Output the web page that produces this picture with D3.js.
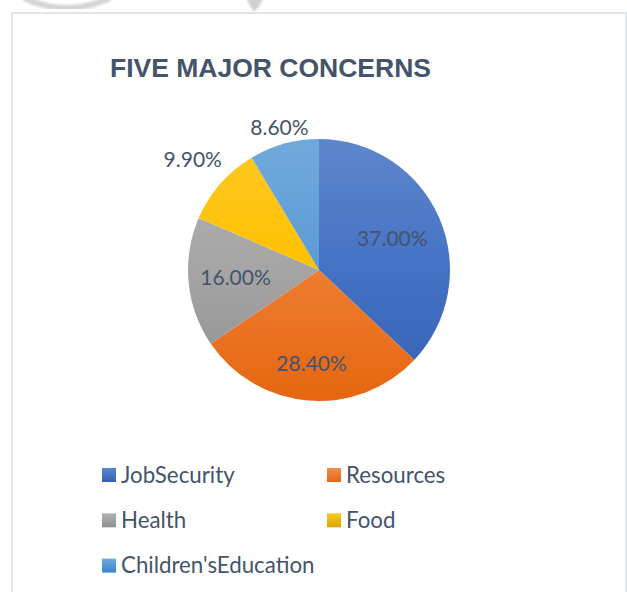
<!DOCTYPE html>
<html>
<head>
<meta charset="utf-8">
<script src="https://cdn.jsdelivr.net/npm/d3@7"></script>
<style>
  html, body { margin: 0; padding: 0; background: #ffffff; }
  svg { display: block; }
</style>
</head>
<body>
<div id="chart"></div>
<script>
// ---- data ----
const title = "FIVE MAJOR CONCERNS";
const categories = ["JobSecurity", "Resources", "Health", "Food", "Children'sEducation"];
const values = [37.00, 28.40, 16.00, 9.90, 8.60];
const labels = ["37.00%", "28.40%", "16.00%", "9.90%", "8.60%"];

// ---- styles / layout ----
const W = 627, H = 592;
const baseColors = ["#4472C4", "#ED7D31", "#A5A5A5", "#FFC000", "#5B9BD5"];
const textColor = "#44546A";
const cx = 319, cy = 270, R = 131;
const labelRadiusFactor = [0.61, 0.72, 0.64, 1.28, 1.13];
const font = "Lato, 'Open Sans', sans-serif";

const svg = d3.select("#chart").append("svg")
  .attr("width", W).attr("height", H);

const defs = svg.append("defs");

function topColor(c) { return d3.interpolateRgb(c, "#ffffff")(0.14); }
function bottomColor(c) {
  const h = d3.hsl(c);
  h.s = Math.min(1, h.s * 1.04);
  h.l = h.l * 0.86;
  return h.formatHex();
}

// gradients: slices (in pie-group space) and legend swatches
baseColors.forEach((c, i) => {
  const sg = defs.append("linearGradient")
    .attr("id", "gradL" + i)
    .attr("gradientUnits", "userSpaceOnUse")
    .attr("x1", 0).attr("x2", 0)
    .attr("y1", -R).attr("y2", R);
  sg.append("stop").attr("offset", "0%").attr("stop-color", topColor(c));
  sg.append("stop").attr("offset", "50%").attr("stop-color", c);
  sg.append("stop").attr("offset", "100%").attr("stop-color", bottomColor(c));

  const lg = defs.append("linearGradient")
    .attr("id", "lgrad" + i)
    .attr("x1", 0).attr("x2", 0).attr("y1", 0).attr("y2", 1);
  lg.append("stop").attr("offset", "0%").attr("stop-color", topColor(c));
  lg.append("stop").attr("offset", "100%").attr("stop-color", bottomColor(c));
});

// decorative remnants at top (from the page the chart was cut from)
const blur = defs.append("filter").attr("id", "soft");
blur.append("feGaussianBlur").attr("stdDeviation", 1.2);
svg.append("path")
  .attr("d", "M24,-2 Q66,18 110,-2")
  .attr("fill", "none").attr("stroke", "#d4d4d4").attr("stroke-width", 6)
  .attr("filter", "url(#soft)");
svg.append("path")
  .attr("d", "M246,-2 L264,-2 L258,8 L254,12 L250,6 Z")
  .attr("fill", "#d0d0d0").attr("filter", "url(#soft)");

// frame
svg.append("rect")
  .attr("x", 12).attr("y", 13)
  .attr("width", 614).attr("height", 600)
  .attr("fill", "#ffffff")
  .attr("stroke", "#e1e6ec").attr("stroke-width", 2);

// title
svg.append("text")
  .attr("x", 110).attr("y", 77)
  .attr("font-family", "'Liberation Sans', Arial, sans-serif")
  .attr("font-weight", "bold")
  .attr("font-size", 26.5)
  .attr("fill", textColor)
  .text(title);

// pie
const pie = d3.pie().sort(null).value(d => d.v);
const arcs = pie(values.map((v, i) => ({ v, i })));
const arcGen = d3.arc().innerRadius(0).outerRadius(R);

const g = svg.append("g").attr("transform", `translate(${cx},${cy})`);
g.selectAll("path.slice")
  .data(arcs)
  .join("path")
  .attr("class", "slice")
  .attr("d", arcGen)
  .attr("fill", d => `url(#gradL${d.index})`);

// data labels
g.selectAll("text.lbl")
  .data(arcs)
  .join("text")
  .attr("class", "lbl")
  .attr("transform", d => {
    const a = (d.startAngle + d.endAngle) / 2;
    const r = R * labelRadiusFactor[d.index];
    return `translate(${Math.sin(a) * r},${-Math.cos(a) * r})`;
  })
  .attr("text-anchor", "middle")
  .attr("dy", "0.35em")
  .attr("font-family", font)
  .attr("font-size", 21)
  .attr("fill", textColor)
  .text(d => labels[d.index]);

// legend
const legendX = [102, 327];
const legendY0 = 468, legendDY = 45.3;
const leg = svg.append("g");
categories.forEach((name, i) => {
  const col = i % 2, row = Math.floor(i / 2);
  const x = legendX[col], y = legendY0 + row * legendDY;
  leg.append("rect")
    .attr("x", x).attr("y", y)
    .attr("width", 14).attr("height", 14)
    .attr("fill", `url(#lgrad${i})`);
  leg.append("text")
    .attr("x", x + 19).attr("y", y + 14.7)
    .attr("font-family", font)
    .attr("font-size", 22.3)
    .attr("fill", textColor)
    .text(name);
});
</script>
</body>
</html>
